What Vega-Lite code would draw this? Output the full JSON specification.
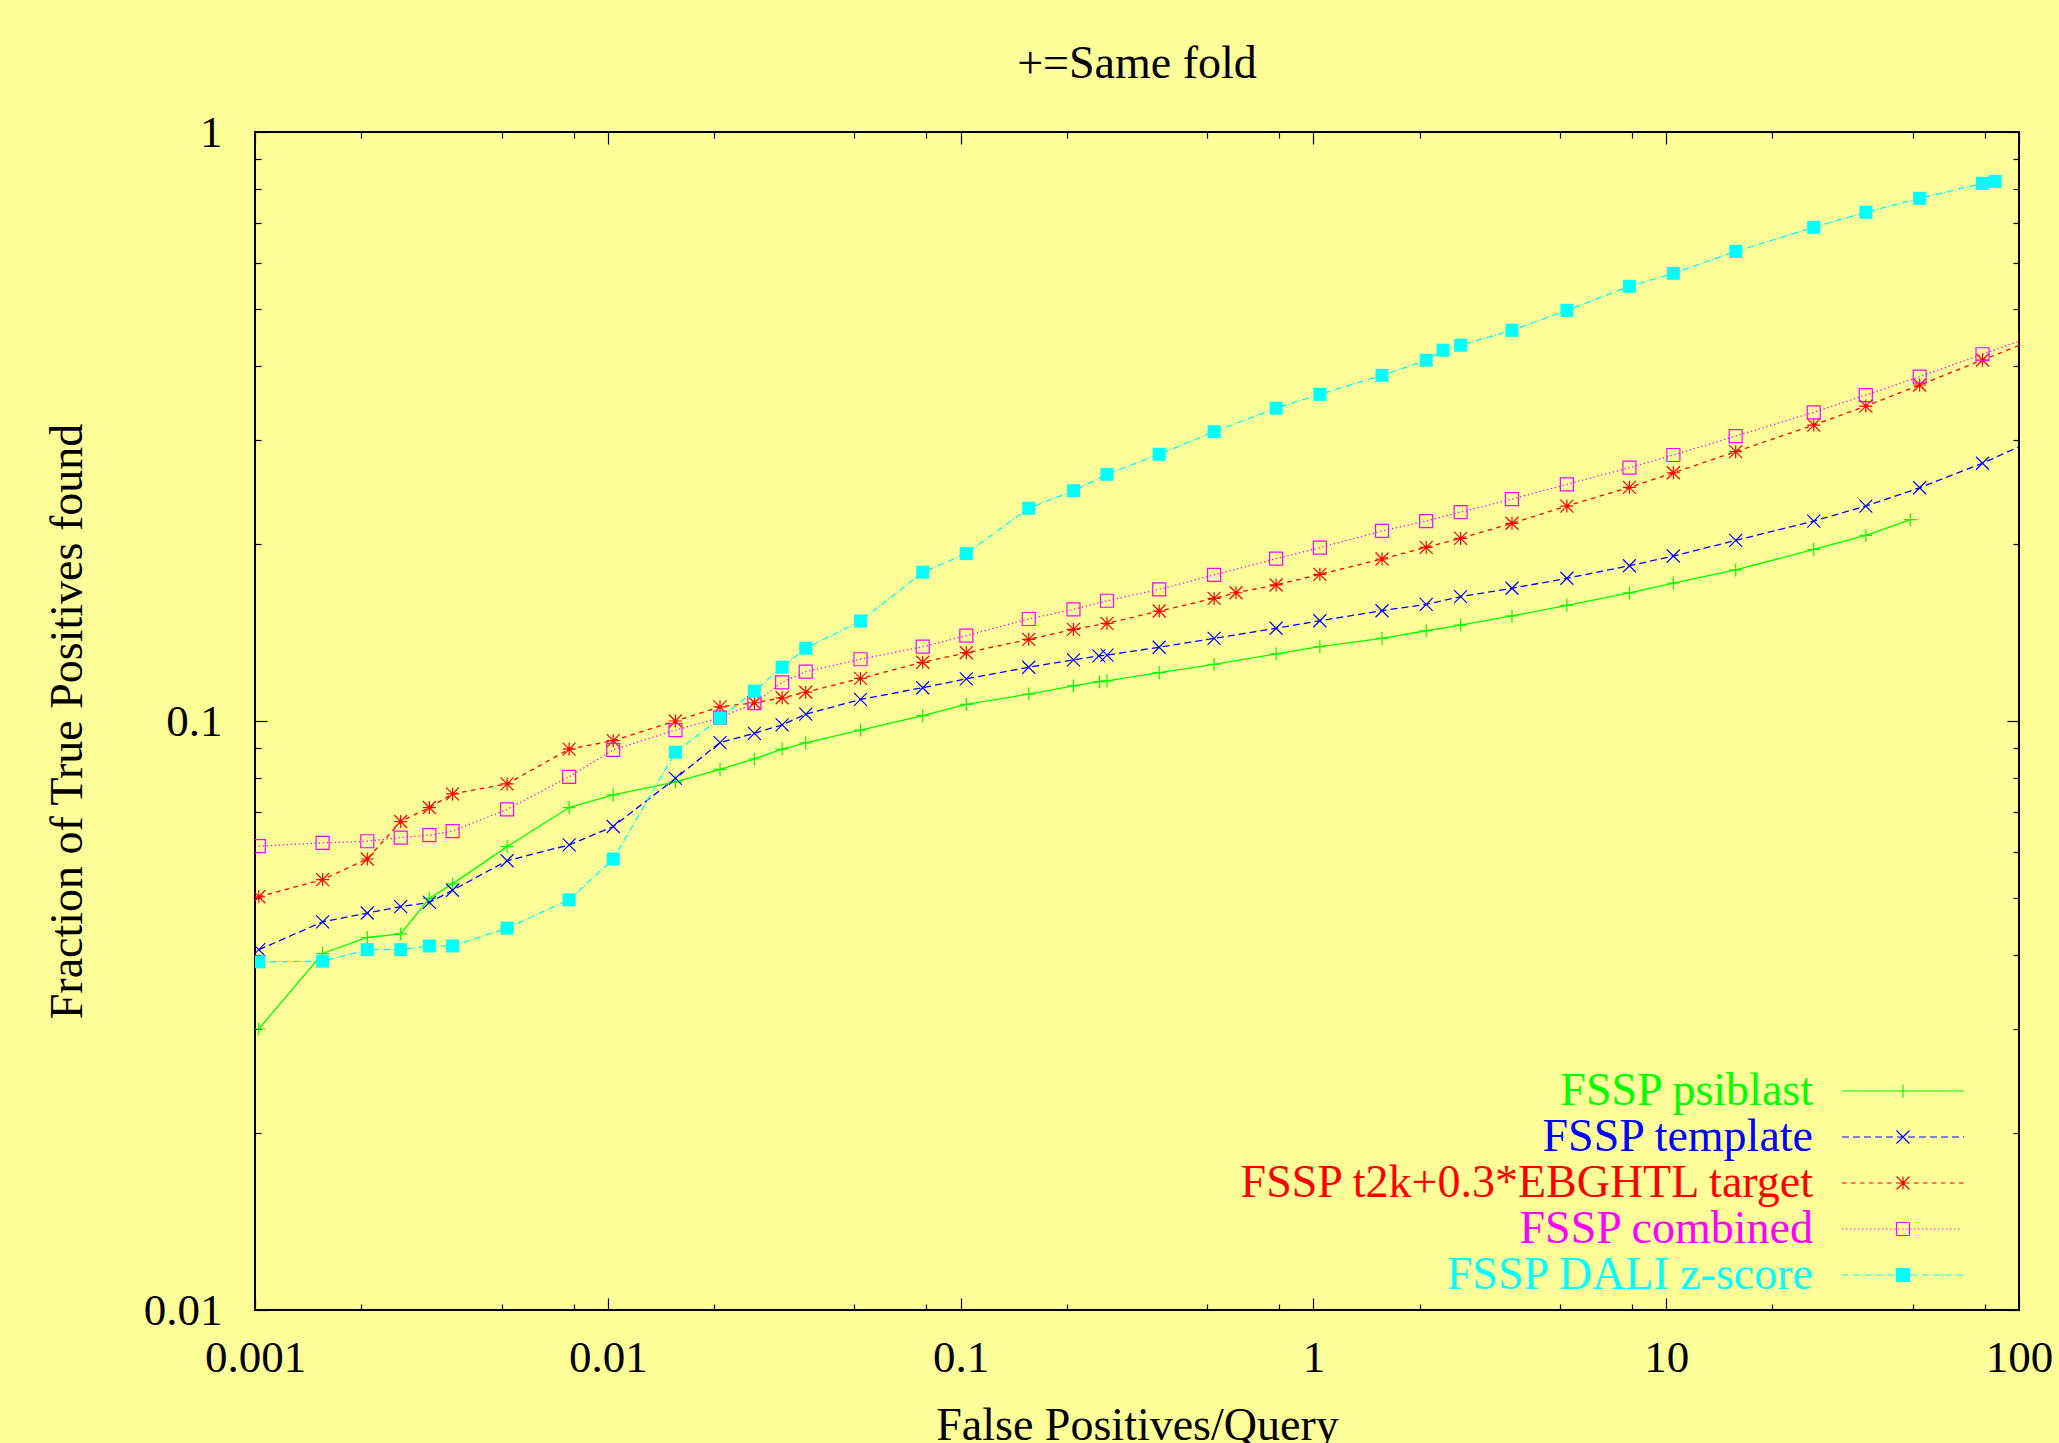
{
  "$schema": "https://vega.github.io/schema/vega-lite/v6.json",
  "width": 1764,
  "height": 1178,
  "autosize": {"type": "none"},
  "padding": {"left": 255, "top": 132, "right": 40, "bottom": 133},
  "background": "#ffff99",
  "title": {"text": "+=Same fold", "font": "Liberation Serif", "fontSize": 46, "fontWeight": "normal", "color": "black", "anchor": "middle", "frame": "group", "offset": 22},
  "config": {
    "view": {"stroke": "black", "strokeWidth": 2},
    "axis": {"grid": false, "domain": false, "tickColor": "black", "tickWidth": 1.2, "labelColor": "black", "titleColor": "black", "labelFont": "Liberation Serif", "titleFont": "Liberation Serif", "titleFontWeight": "normal", "labelFlush": false, "labelOverlap": false, "labelBound": false}
  },
  "data": {"values": [
    {"series": "FSSP psiblast", "x": 0.001025, "y": 0.0300},
    {"series": "FSSP psiblast", "x": 0.001555, "y": 0.0403},
    {"series": "FSSP psiblast", "x": 0.002081, "y": 0.0429},
    {"series": "FSSP psiblast", "x": 0.002588, "y": 0.0435},
    {"series": "FSSP psiblast", "x": 0.003121, "y": 0.0500},
    {"series": "FSSP psiblast", "x": 0.003631, "y": 0.0529},
    {"series": "FSSP psiblast", "x": 0.005182, "y": 0.0612},
    {"series": "FSSP psiblast", "x": 0.00777, "y": 0.0713},
    {"series": "FSSP psiblast", "x": 0.01036, "y": 0.0749},
    {"series": "FSSP psiblast", "x": 0.01555, "y": 0.0788},
    {"series": "FSSP psiblast", "x": 0.0208, "y": 0.0828},
    {"series": "FSSP psiblast", "x": 0.02603, "y": 0.0862},
    {"series": "FSSP psiblast", "x": 0.0312, "y": 0.0896},
    {"series": "FSSP psiblast", "x": 0.0364, "y": 0.0918},
    {"series": "FSSP psiblast", "x": 0.05203, "y": 0.0965},
    {"series": "FSSP psiblast", "x": 0.0781, "y": 0.1021},
    {"series": "FSSP psiblast", "x": 0.1038, "y": 0.1067},
    {"series": "FSSP psiblast", "x": 0.156, "y": 0.1111},
    {"series": "FSSP psiblast", "x": 0.2089, "y": 0.1147},
    {"series": "FSSP psiblast", "x": 0.2475, "y": 0.1166},
    {"series": "FSSP psiblast", "x": 0.260, "y": 0.1170},
    {"series": "FSSP psiblast", "x": 0.3655, "y": 0.1208},
    {"series": "FSSP psiblast", "x": 0.523, "y": 0.1248},
    {"series": "FSSP psiblast", "x": 0.784, "y": 0.1300},
    {"series": "FSSP psiblast", "x": 1.043, "y": 0.1337},
    {"series": "FSSP psiblast", "x": 1.565, "y": 0.1381},
    {"series": "FSSP psiblast", "x": 2.088, "y": 0.1423},
    {"series": "FSSP psiblast", "x": 2.614, "y": 0.1455},
    {"series": "FSSP psiblast", "x": 3.655, "y": 0.1508},
    {"series": "FSSP psiblast", "x": 5.23, "y": 0.1572},
    {"series": "FSSP psiblast", "x": 7.865, "y": 0.1650},
    {"series": "FSSP psiblast", "x": 10.48, "y": 0.1715},
    {"series": "FSSP psiblast", "x": 15.74, "y": 0.1805},
    {"series": "FSSP psiblast", "x": 26.2, "y": 0.1956},
    {"series": "FSSP psiblast", "x": 36.8, "y": 0.2066},
    {"series": "FSSP psiblast", "x": 49.2, "y": 0.2197},

    {"series": "FSSP template", "x": 0.001025, "y": 0.0409},
    {"series": "FSSP template", "x": 0.001555, "y": 0.0456},
    {"series": "FSSP template", "x": 0.002081, "y": 0.0472},
    {"series": "FSSP template", "x": 0.002588, "y": 0.0484},
    {"series": "FSSP template", "x": 0.003121, "y": 0.0492},
    {"series": "FSSP template", "x": 0.003631, "y": 0.0516},
    {"series": "FSSP template", "x": 0.005182, "y": 0.0579},
    {"series": "FSSP template", "x": 0.00777, "y": 0.0616},
    {"series": "FSSP template", "x": 0.01036, "y": 0.0662},
    {"series": "FSSP template", "x": 0.01555, "y": 0.0799},
    {"series": "FSSP template", "x": 0.0208, "y": 0.0919},
    {"series": "FSSP template", "x": 0.02603, "y": 0.0953},
    {"series": "FSSP template", "x": 0.0312, "y": 0.0985},
    {"series": "FSSP template", "x": 0.0364, "y": 0.1027},
    {"series": "FSSP template", "x": 0.05203, "y": 0.1088},
    {"series": "FSSP template", "x": 0.0781, "y": 0.1139},
    {"series": "FSSP template", "x": 0.1038, "y": 0.1179},
    {"series": "FSSP template", "x": 0.156, "y": 0.1234},
    {"series": "FSSP template", "x": 0.2089, "y": 0.1270},
    {"series": "FSSP template", "x": 0.2466, "y": 0.1290},
    {"series": "FSSP template", "x": 0.260, "y": 0.1294},
    {"series": "FSSP template", "x": 0.3655, "y": 0.1334},
    {"series": "FSSP template", "x": 0.523, "y": 0.1381},
    {"series": "FSSP template", "x": 0.784, "y": 0.1437},
    {"series": "FSSP template", "x": 1.043, "y": 0.1480},
    {"series": "FSSP template", "x": 1.565, "y": 0.1539},
    {"series": "FSSP template", "x": 2.088, "y": 0.1578},
    {"series": "FSSP template", "x": 2.614, "y": 0.1626},
    {"series": "FSSP template", "x": 3.655, "y": 0.1680},
    {"series": "FSSP template", "x": 5.23, "y": 0.1747},
    {"series": "FSSP template", "x": 7.865, "y": 0.1835},
    {"series": "FSSP template", "x": 10.48, "y": 0.1906},
    {"series": "FSSP template", "x": 15.74, "y": 0.2026},
    {"series": "FSSP template", "x": 26.2, "y": 0.2185},
    {"series": "FSSP template", "x": 36.8, "y": 0.2317},
    {"series": "FSSP template", "x": 52.3, "y": 0.2489},
    {"series": "FSSP template", "x": 78.8, "y": 0.2739},
    {"series": "FSSP template", "x": 104.5, "y": 0.2957},

    {"series": "FSSP t2k+0.3*EBGHTL target", "x": 0.001025, "y": 0.0503},
    {"series": "FSSP t2k+0.3*EBGHTL target", "x": 0.001555, "y": 0.0538},
    {"series": "FSSP t2k+0.3*EBGHTL target", "x": 0.002081, "y": 0.0583},
    {"series": "FSSP t2k+0.3*EBGHTL target", "x": 0.002588, "y": 0.0675},
    {"series": "FSSP t2k+0.3*EBGHTL target", "x": 0.003121, "y": 0.0713},
    {"series": "FSSP t2k+0.3*EBGHTL target", "x": 0.003631, "y": 0.0752},
    {"series": "FSSP t2k+0.3*EBGHTL target", "x": 0.005182, "y": 0.0782},
    {"series": "FSSP t2k+0.3*EBGHTL target", "x": 0.00777, "y": 0.0896},
    {"series": "FSSP t2k+0.3*EBGHTL target", "x": 0.01036, "y": 0.0926},
    {"series": "FSSP t2k+0.3*EBGHTL target", "x": 0.01555, "y": 0.1000},
    {"series": "FSSP t2k+0.3*EBGHTL target", "x": 0.0208, "y": 0.1057},
    {"series": "FSSP t2k+0.3*EBGHTL target", "x": 0.02603, "y": 0.1074},
    {"series": "FSSP t2k+0.3*EBGHTL target", "x": 0.0312, "y": 0.1095},
    {"series": "FSSP t2k+0.3*EBGHTL target", "x": 0.0364, "y": 0.1119},
    {"series": "FSSP t2k+0.3*EBGHTL target", "x": 0.05203, "y": 0.1181},
    {"series": "FSSP t2k+0.3*EBGHTL target", "x": 0.0781, "y": 0.1258},
    {"series": "FSSP t2k+0.3*EBGHTL target", "x": 0.1038, "y": 0.1306},
    {"series": "FSSP t2k+0.3*EBGHTL target", "x": 0.156, "y": 0.1376},
    {"series": "FSSP t2k+0.3*EBGHTL target", "x": 0.2089, "y": 0.1431},
    {"series": "FSSP t2k+0.3*EBGHTL target", "x": 0.260, "y": 0.1465},
    {"series": "FSSP t2k+0.3*EBGHTL target", "x": 0.3655, "y": 0.1537},
    {"series": "FSSP t2k+0.3*EBGHTL target", "x": 0.523, "y": 0.1615},
    {"series": "FSSP t2k+0.3*EBGHTL target", "x": 0.6034, "y": 0.1651},
    {"series": "FSSP t2k+0.3*EBGHTL target", "x": 0.784, "y": 0.1702},
    {"series": "FSSP t2k+0.3*EBGHTL target", "x": 1.043, "y": 0.1774},
    {"series": "FSSP t2k+0.3*EBGHTL target", "x": 1.565, "y": 0.1884},
    {"series": "FSSP t2k+0.3*EBGHTL target", "x": 2.088, "y": 0.1972},
    {"series": "FSSP t2k+0.3*EBGHTL target", "x": 2.614, "y": 0.2042},
    {"series": "FSSP t2k+0.3*EBGHTL target", "x": 3.655, "y": 0.2166},
    {"series": "FSSP t2k+0.3*EBGHTL target", "x": 5.23, "y": 0.2317},
    {"series": "FSSP t2k+0.3*EBGHTL target", "x": 7.865, "y": 0.2493},
    {"series": "FSSP t2k+0.3*EBGHTL target", "x": 10.48, "y": 0.2639},
    {"series": "FSSP t2k+0.3*EBGHTL target", "x": 15.74, "y": 0.2866},
    {"series": "FSSP t2k+0.3*EBGHTL target", "x": 26.2, "y": 0.3180},
    {"series": "FSSP t2k+0.3*EBGHTL target", "x": 36.8, "y": 0.3425},
    {"series": "FSSP t2k+0.3*EBGHTL target", "x": 52.3, "y": 0.3719},
    {"series": "FSSP t2k+0.3*EBGHTL target", "x": 78.8, "y": 0.4101},
    {"series": "FSSP t2k+0.3*EBGHTL target", "x": 104.5, "y": 0.4386},

    {"series": "FSSP combined", "x": 0.001025, "y": 0.0613},
    {"series": "FSSP combined", "x": 0.001555, "y": 0.0621},
    {"series": "FSSP combined", "x": 0.002081, "y": 0.0625},
    {"series": "FSSP combined", "x": 0.002588, "y": 0.0634},
    {"series": "FSSP combined", "x": 0.003121, "y": 0.0640},
    {"series": "FSSP combined", "x": 0.003631, "y": 0.0650},
    {"series": "FSSP combined", "x": 0.005182, "y": 0.0708},
    {"series": "FSSP combined", "x": 0.00777, "y": 0.0804},
    {"series": "FSSP combined", "x": 0.01036, "y": 0.0893},
    {"series": "FSSP combined", "x": 0.01555, "y": 0.0965},
    {"series": "FSSP combined", "x": 0.0208, "y": 0.1013},
    {"series": "FSSP combined", "x": 0.02603, "y": 0.1072},
    {"series": "FSSP combined", "x": 0.0312, "y": 0.1163},
    {"series": "FSSP combined", "x": 0.0364, "y": 0.1213},
    {"series": "FSSP combined", "x": 0.05203, "y": 0.1273},
    {"series": "FSSP combined", "x": 0.0781, "y": 0.1337},
    {"series": "FSSP combined", "x": 0.1038, "y": 0.1396},
    {"series": "FSSP combined", "x": 0.156, "y": 0.1490},
    {"series": "FSSP combined", "x": 0.2089, "y": 0.1547},
    {"series": "FSSP combined", "x": 0.260, "y": 0.1600},
    {"series": "FSSP combined", "x": 0.3655, "y": 0.1673},
    {"series": "FSSP combined", "x": 0.523, "y": 0.1770},
    {"series": "FSSP combined", "x": 0.784, "y": 0.1886},
    {"series": "FSSP combined", "x": 1.043, "y": 0.1969},
    {"series": "FSSP combined", "x": 1.565, "y": 0.2102},
    {"series": "FSSP combined", "x": 2.088, "y": 0.2185},
    {"series": "FSSP combined", "x": 2.614, "y": 0.2263},
    {"series": "FSSP combined", "x": 3.655, "y": 0.2381},
    {"series": "FSSP combined", "x": 5.23, "y": 0.2522},
    {"series": "FSSP combined", "x": 7.865, "y": 0.2692},
    {"series": "FSSP combined", "x": 10.48, "y": 0.2829},
    {"series": "FSSP combined", "x": 15.74, "y": 0.3046},
    {"series": "FSSP combined", "x": 26.2, "y": 0.3343},
    {"series": "FSSP combined", "x": 36.8, "y": 0.3576},
    {"series": "FSSP combined", "x": 52.3, "y": 0.3842},
    {"series": "FSSP combined", "x": 78.8, "y": 0.4194},
    {"series": "FSSP combined", "x": 104.5, "y": 0.4454},

    {"series": "FSSP DALI z-score", "x": 0.001025, "y": 0.0390},
    {"series": "FSSP DALI z-score", "x": 0.001555, "y": 0.0391},
    {"series": "FSSP DALI z-score", "x": 0.002081, "y": 0.0409},
    {"series": "FSSP DALI z-score", "x": 0.002588, "y": 0.0409},
    {"series": "FSSP DALI z-score", "x": 0.003121, "y": 0.0415},
    {"series": "FSSP DALI z-score", "x": 0.003631, "y": 0.0415},
    {"series": "FSSP DALI z-score", "x": 0.005182, "y": 0.0445},
    {"series": "FSSP DALI z-score", "x": 0.00777, "y": 0.0497},
    {"series": "FSSP DALI z-score", "x": 0.01036, "y": 0.0583},
    {"series": "FSSP DALI z-score", "x": 0.01555, "y": 0.0885},
    {"series": "FSSP DALI z-score", "x": 0.0208, "y": 0.1011},
    {"series": "FSSP DALI z-score", "x": 0.02603, "y": 0.1124},
    {"series": "FSSP DALI z-score", "x": 0.0312, "y": 0.1234},
    {"series": "FSSP DALI z-score", "x": 0.0364, "y": 0.1329},
    {"series": "FSSP DALI z-score", "x": 0.05203, "y": 0.1478},
    {"series": "FSSP DALI z-score", "x": 0.0781, "y": 0.1789},
    {"series": "FSSP DALI z-score", "x": 0.1038, "y": 0.1924},
    {"series": "FSSP DALI z-score", "x": 0.156, "y": 0.2297},
    {"series": "FSSP DALI z-score", "x": 0.2089, "y": 0.2460},
    {"series": "FSSP DALI z-score", "x": 0.260, "y": 0.2623},
    {"series": "FSSP DALI z-score", "x": 0.3655, "y": 0.2837},
    {"series": "FSSP DALI z-score", "x": 0.523, "y": 0.3099},
    {"series": "FSSP DALI z-score", "x": 0.784, "y": 0.3396},
    {"series": "FSSP DALI z-score", "x": 1.043, "y": 0.3586},
    {"series": "FSSP DALI z-score", "x": 1.565, "y": 0.3863},
    {"series": "FSSP DALI z-score", "x": 2.088, "y": 0.4097},
    {"series": "FSSP DALI z-score", "x": 2.33, "y": 0.4261},
    {"series": "FSSP DALI z-score", "x": 2.614, "y": 0.4345},
    {"series": "FSSP DALI z-score", "x": 3.655, "y": 0.4607},
    {"series": "FSSP DALI z-score", "x": 5.23, "y": 0.4980},
    {"series": "FSSP DALI z-score", "x": 7.865, "y": 0.5470},
    {"series": "FSSP DALI z-score", "x": 10.48, "y": 0.5755},
    {"series": "FSSP DALI z-score", "x": 15.74, "y": 0.6271},
    {"series": "FSSP DALI z-score", "x": 26.2, "y": 0.6889},
    {"series": "FSSP DALI z-score", "x": 36.8, "y": 0.7307},
    {"series": "FSSP DALI z-score", "x": 52.3, "y": 0.7716},
    {"series": "FSSP DALI z-score", "x": 78.8, "y": 0.8180},
    {"series": "FSSP DALI z-score", "x": 85.5, "y": 0.8246}
  ]},
  "resolve": {"axis": {"x": "independent", "y": "independent"}},
  "layer": [
    {
      "transform": [{"filter": {"field": "series", "equal": "FSSP psiblast"}}],
      "mark": {"type": "line", "strokeWidth": 1.3, "clip": true},
      "encoding": {
        "x": {"field": "x", "type": "quantitative", "scale": {"type": "log", "domain": [0.001, 100], "nice": false},
              "axis": {"orient": "bottom", "values": [0.001, 0.01, 0.1, 1, 10, 100], "format": "~g", "tickSize": -12, "labelPadding": 37, "labelFontSize": 45, "title": "False Positives/Query", "titleFontSize": 46, "titlePadding": 23}},
        "y": {"field": "y", "type": "quantitative", "scale": {"type": "log", "domain": [0.01, 1], "nice": false},
              "axis": {"orient": "left", "values": [0.01, 0.1, 1], "format": "~g", "tickSize": -12, "labelPadding": 45, "labelFontSize": 45, "title": "Fraction of True Positives found", "titleFontSize": 46, "titlePadding": 52}},
        "color": {"field": "series", "type": "nominal",
                  "scale": {"domain": ["FSSP psiblast", "FSSP template", "FSSP t2k+0.3*EBGHTL target", "FSSP combined", "FSSP DALI z-score"], "range": ["#00ff00", "#0000ff", "#ff0000", "#ff00ff", "#00ffff"]},
                  "legend": {
                    "orient": "none", "legendX": 1625, "legendY": 936, "direction": "vertical", "title": null, "padding": 0,
                    "symbolSize": 1936, "symbolStrokeWidth": 1.2, "rowPadding": -0.2, "symbolOpacity": 1,
                    "labelFont": "Liberation Serif", "labelFontSize": 46, "labelAlign": "right", "labelOffset": -113, "labelLimit": 2000,
                    "symbolType": {"expr": "datum.value === 'FSSP psiblast' ? 'M-2.773,0H2.773M0,-0.295V0.295' : datum.value === 'FSSP template' ? 'M-2.773,0h0.318m0.182,0h0.318m0.182,0h0.318m0.182,0h0.318m0.182,0h0.318m0.182,0h0.318m0.182,0h0.318m0.182,0h0.318m0.182,0h0.318m0.182,0h0.318m0.182,0h0.318m0.182,0h0.046M-0.295,-0.295L0.295,0.295M-0.295,0.295L0.295,-0.295' : datum.value === 'FSSP t2k+0.3*EBGHTL target' ? 'M-2.773,0h0.205m0.204,0h0.205m0.204,0h0.205m0.204,0h0.205m0.204,0h0.205m0.204,0h0.205m0.204,0h0.205m0.204,0h0.205m0.204,0h0.205m0.204,0h0.205m0.204,0h0.205m0.204,0h0.205m0.204,0h0.205m0.204,0h0.205M-0.295,0H0.295M0,-0.295V0.295M-0.295,-0.295L0.295,0.295M-0.295,0.295L0.295,-0.295' : datum.value === 'FSSP combined' ? 'M-2.773,0h0.059m0.123,0h0.059m0.123,0h0.059m0.123,0h0.059m0.123,0h0.059m0.123,0h0.059m0.123,0h0.059m0.123,0h0.059m0.123,0h0.059m0.123,0h0.059m0.123,0h0.059m0.123,0h0.059m0.123,0h0.059m0.123,0h0.059m0.123,0h0.059m0.123,0h0.059m0.123,0h0.059m0.123,0h0.059m0.123,0h0.059m0.123,0h0.059m0.123,0h0.059m0.123,0h0.059m0.123,0h0.059m0.123,0h0.059m0.123,0h0.059m0.123,0h0.059m0.123,0h0.059m0.123,0h0.059m0.123,0h0.059m0.123,0h0.059M-0.295,-0.295H0.295M0.295,-0.295V0.295M0.295,0.295H-0.295M-0.295,0.295V-0.295' : 'M-2.773,0h0.295m0.091,0h0.045m0.091,0h0.295m0.091,0h0.045m0.091,0h0.295m0.091,0h0.045m0.091,0h0.295m0.091,0h0.045m0.091,0h0.295m0.091,0h0.045m0.091,0h0.295m0.091,0h0.045m0.091,0h0.295m0.091,0h0.045m0.091,0h0.295m0.091,0h0.045m0.091,0h0.295m0.091,0h0.045m0.091,0h0.295m0.091,0h0.045m0.091,0h0.295M-0.295,-0.295H0.295V0.295H-0.295Z'"},
                    "symbolFillColor": {"expr": "datum.value === 'FSSP DALI z-score' ? '#00ffff' : 'transparent'"},
                    "labelColor": {"expr": "datum.value === 'FSSP psiblast' ? '#00ff00' : datum.value === 'FSSP template' ? '#0000ff' : datum.value === 'FSSP t2k+0.3*EBGHTL target' ? '#ff0000' : datum.value === 'FSSP combined' ? '#ff00ff' : '#00ffff'"}
                  }}
      }
    },
    {
      "transform": [{"filter": {"field": "series", "equal": "FSSP template"}}],
      "mark": {"type": "line", "strokeWidth": 1.3, "strokeDash": [7, 4], "clip": true},
      "encoding": {
        "x": {"field": "x", "type": "quantitative", "scale": {"type": "log", "domain": [0.001, 100], "nice": false},
              "axis": {"orient": "bottom", "values": [0.002, 0.005, 0.008, 0.02, 0.05, 0.08, 0.2, 0.5, 0.8, 2, 5, 8, 20, 50, 80], "tickSize": -6, "labels": false, "title": null}},
        "y": {"field": "y", "type": "quantitative", "scale": {"type": "log", "domain": [0.01, 1], "nice": false},
              "axis": {"orient": "left", "values": [0.02, 0.03, 0.04, 0.05, 0.06, 0.07, 0.08, 0.09, 0.2, 0.3, 0.4, 0.5, 0.6, 0.7, 0.8, 0.9], "tickSize": -6, "labels": false, "title": null}},
        "color": {"field": "series", "type": "nominal", "legend": null}
      }
    },
    {
      "transform": [{"filter": {"field": "series", "equal": "FSSP t2k+0.3*EBGHTL target"}}],
      "mark": {"type": "line", "strokeWidth": 1.3, "strokeDash": [4.5, 4.5], "clip": true},
      "encoding": {
        "x": {"field": "x", "type": "quantitative", "scale": {"type": "log", "domain": [0.001, 100], "nice": false},
              "axis": {"orient": "top", "values": [0.001, 0.01, 0.1, 1, 10, 100], "tickSize": -12, "labels": false, "title": null}},
        "y": {"field": "y", "type": "quantitative", "scale": {"type": "log", "domain": [0.01, 1], "nice": false},
              "axis": {"orient": "right", "values": [0.01, 0.1, 1], "tickSize": -12, "labels": false, "title": null}},
        "color": {"field": "series", "type": "nominal", "legend": null}
      }
    },
    {
      "transform": [{"filter": {"field": "series", "equal": "FSSP combined"}}],
      "mark": {"type": "line", "strokeWidth": 1.3, "strokeDash": [1.3, 2.7], "clip": true},
      "encoding": {
        "x": {"field": "x", "type": "quantitative", "scale": {"type": "log", "domain": [0.001, 100], "nice": false},
              "axis": {"orient": "top", "values": [0.002, 0.005, 0.008, 0.02, 0.05, 0.08, 0.2, 0.5, 0.8, 2, 5, 8, 20, 50, 80], "tickSize": -6, "labels": false, "title": null}},
        "y": {"field": "y", "type": "quantitative", "scale": {"type": "log", "domain": [0.01, 1], "nice": false},
              "axis": {"orient": "right", "values": [0.02, 0.03, 0.04, 0.05, 0.06, 0.07, 0.08, 0.09, 0.2, 0.3, 0.4, 0.5, 0.6, 0.7, 0.8, 0.9], "tickSize": -6, "labels": false, "title": null}},
        "color": {"field": "series", "type": "nominal", "legend": null}
      }
    },
    {
      "transform": [{"filter": {"field": "series", "equal": "FSSP DALI z-score"}}],
      "mark": {"type": "line", "strokeWidth": 1.3, "strokeDash": [6.5, 2, 1, 2], "clip": true},
      "encoding": {
        "x": {"field": "x", "type": "quantitative", "scale": {"type": "log", "domain": [0.001, 100], "nice": false}, "axis": null},
        "y": {"field": "y", "type": "quantitative", "scale": {"type": "log", "domain": [0.01, 1], "nice": false}, "axis": null},
        "color": {"field": "series", "type": "nominal", "legend": null}
      }
    },
    {
      "transform": [{"filter": {"field": "series", "oneOf": ["FSSP psiblast", "FSSP template", "FSSP t2k+0.3*EBGHTL target", "FSSP combined"]}}],
      "mark": {"type": "point", "filled": false, "size": 169, "strokeWidth": 1.2, "opacity": 1, "clip": true},
      "encoding": {
        "x": {"field": "x", "type": "quantitative", "scale": {"type": "log", "domain": [0.001, 100], "nice": false}, "axis": null},
        "y": {"field": "y", "type": "quantitative", "scale": {"type": "log", "domain": [0.01, 1], "nice": false}, "axis": null},
        "color": {"field": "series", "type": "nominal", "legend": null},
        "shape": {"field": "series", "type": "nominal", "legend": null,
                  "scale": {"domain": ["FSSP psiblast", "FSSP template", "FSSP t2k+0.3*EBGHTL target", "FSSP combined"], "range": ["M-1,0H1M0,-1V1", "M-1,-1L1,1M-1,1L1,-1", "M-1,0H1M0,-1V1M-1,-1L1,1M-1,1L1,-1", "square"]}}
      }
    },
    {
      "transform": [{"filter": {"field": "series", "equal": "FSSP DALI z-score"}}],
      "mark": {"type": "point", "filled": true, "shape": "square", "size": 169, "opacity": 1, "clip": true},
      "encoding": {
        "x": {"field": "x", "type": "quantitative", "scale": {"type": "log", "domain": [0.001, 100], "nice": false}, "axis": null},
        "y": {"field": "y", "type": "quantitative", "scale": {"type": "log", "domain": [0.01, 1], "nice": false}, "axis": null},
        "color": {"field": "series", "type": "nominal", "legend": null}
      }
    }
  ]
}
